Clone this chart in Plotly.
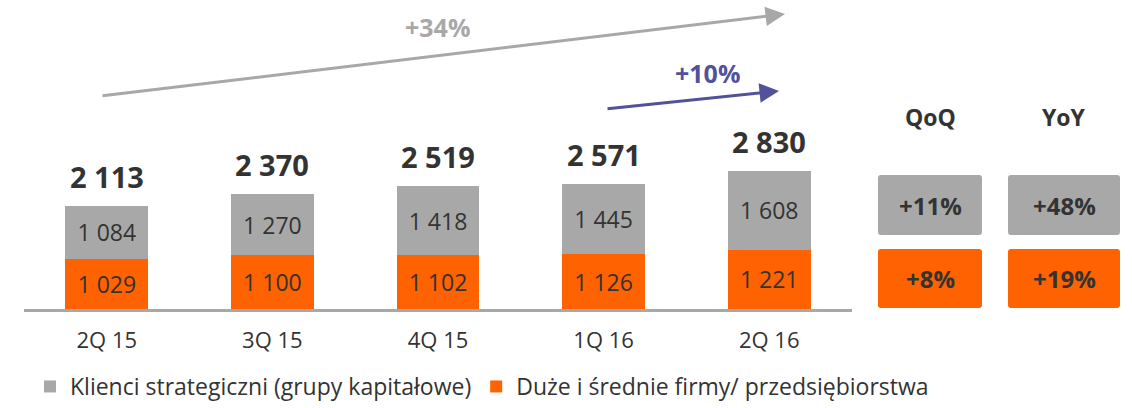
import plotly.graph_objects as go

W, H = 1132, 408

categories = ["2Q 15", "3Q 15", "4Q 15", "1Q 16", "2Q 16"]
strategic = [1084, 1270, 1418, 1445, 1608]
mid_large = [1029, 1100, 1102, 1126, 1221]
totals = [2113, 2370, 2519, 2571, 2830]

name_strategic = "Klienci strategiczni (grupy kapitałowe)"
name_mid = "Duże i średnie firmy/ przedsiębiorstwa"

growth_long = "+34%"
growth_short = "+10%"
qoq_labels = ["+11%", "+8%"]
yoy_labels = ["+48%", "+19%"]

GRAY = "#A8A8A8"
ORANGE = "#FF6200"
PURPLE = "#525199"
DARK = "#333333"
FONT = "Open Sans"


def fmt(v):
    return f"{v:,}".replace(",", " ")


def px(x):
    return x / W


def py(y):
    return 1 - y / H


fig = go.Figure()
fig.add_trace(go.Bar(
    x=categories, y=mid_large, name=name_mid, marker=dict(color=ORANGE, line=dict(width=0)),
    text=[fmt(v) for v in mid_large], textposition="inside", insidetextanchor="middle",
    textfont=dict(color=DARK, size=23, family=FONT), legendrank=2,
))
fig.add_trace(go.Bar(
    x=categories, y=strategic, name=name_strategic, marker=dict(color=GRAY, line=dict(width=0)),
    text=[fmt(v) for v in strategic], textposition="inside", insidetextanchor="middle",
    textfont=dict(color=DARK, size=23, family=FONT), legendrank=1,
))

annotations = []
for c, t in zip(categories, totals):
    annotations.append(dict(x=c, y=t, xref="x", yref="y", text=f"<b>{fmt(t)}</b>", showarrow=False,
                            xanchor="center", yanchor="bottom", yshift=8,
                            font=dict(size=29, color=DARK, family=FONT)))

# growth arrows (tip in paper coords, tail as pixel offset)
annotations.append(dict(x=px(785), y=py(14), ax=101 - 785, ay=96 - 14, xref="paper", yref="paper",
                        axref="pixel", ayref="pixel", text="", showarrow=True, arrowhead=2,
                        arrowsize=1.3, arrowwidth=3, arrowcolor=GRAY, standoff=0))
annotations.append(dict(x=px(437), y=py(27), xref="paper", yref="paper", text=f"<b>{growth_long}</b>",
                        xanchor="center", yanchor="middle", showarrow=False,
                        font=dict(size=25, color=GRAY, family=FONT)))
annotations.append(dict(x=px(779), y=py(91), ax=606 - 779, ay=109 - 91, xref="paper", yref="paper",
                        axref="pixel", ayref="pixel", text="", showarrow=True, arrowhead=2,
                        arrowsize=1.3, arrowwidth=3, arrowcolor=PURPLE, standoff=0))
annotations.append(dict(x=px(707), y=py(73), xref="paper", yref="paper", text=f"<b>{growth_short}</b>",
                        xanchor="center", yanchor="middle", showarrow=False,
                        font=dict(size=25, color=PURPLE, family=FONT)))

# QoQ / YoY headers and boxes
shapes = []


def rbox(x0, y0, x1, y1, color, r=3):
    rx, ry = r / W, r / H
    X0, X1 = px(x0), px(x1)
    Y0, Y1 = py(y0), py(y1)  # Y0 top, Y1 bottom
    path = (f"M {X0+rx} {Y0} L {X1-rx} {Y0} Q {X1} {Y0} {X1} {Y0-ry} L {X1} {Y1+ry} "
            f"Q {X1} {Y1} {X1-rx} {Y1} L {X0+rx} {Y1} Q {X0} {Y1} {X0} {Y1+ry} "
            f"L {X0} {Y0-ry} Q {X0} {Y0} {X0+rx} {Y0} Z")
    return dict(type="path", path=path, xref="paper", yref="paper", fillcolor=color,
                line=dict(width=0), layer="below")


cols = [("QoQ", 878, 982, qoq_labels), ("YoY", 1008, 1120, yoy_labels)]
for head, x0, x1, labels in cols:
    cx = (x0 + x1) / 2
    annotations.append(dict(x=px(cx), y=py(117), xref="paper", yref="paper", text=f"<b>{head}</b>",
                            xanchor="center", yanchor="middle",
                            showarrow=False, font=dict(size=23, color=DARK, family=FONT)))
    for (y0, y1, col), lab in zip([(175, 235, GRAY), (249, 308, ORANGE)], labels):
        shapes.append(rbox(x0, y0, x1, y1, col))
        annotations.append(dict(x=px(cx), y=py((y0 + y1) / 2), xref="paper", yref="paper",
                                text=f"<b>{lab}</b>", showarrow=False,
                                xanchor="center", yanchor="middle",
                                font=dict(size=24, color=DARK, family=FONT)))

fig.update_layout(
    width=W, height=H, margin=dict(l=0, r=0, t=0, b=0, pad=0, autoexpand=False),
    paper_bgcolor="white", plot_bgcolor="white",
    barmode="stack", bargap=0.5,
    font=dict(family=FONT, color=DARK),
    xaxis=dict(domain=[px(24), px(852)], showline=True, linecolor=GRAY, linewidth=3,
               showgrid=False, zeroline=False, ticks="", ticklabelstandoff=10, automargin=False,
               tickfont=dict(size=22, color=DARK, family=FONT)),
    yaxis=dict(domain=[py(309), 1], range=[0, 309 / 0.0487], visible=False, showgrid=False,
               automargin=False),
    legend=dict(orientation="h", x=px(30), y=0, xanchor="left", yanchor="bottom",
                traceorder="normal",
                font=dict(size=23, color=DARK, family=FONT), bgcolor="rgba(0,0,0,0)"),
    annotations=annotations, shapes=shapes,
)

fig.write_html("out.html", post_script="document.body.style.margin='0';",
               config={"displayModeBar": False})
